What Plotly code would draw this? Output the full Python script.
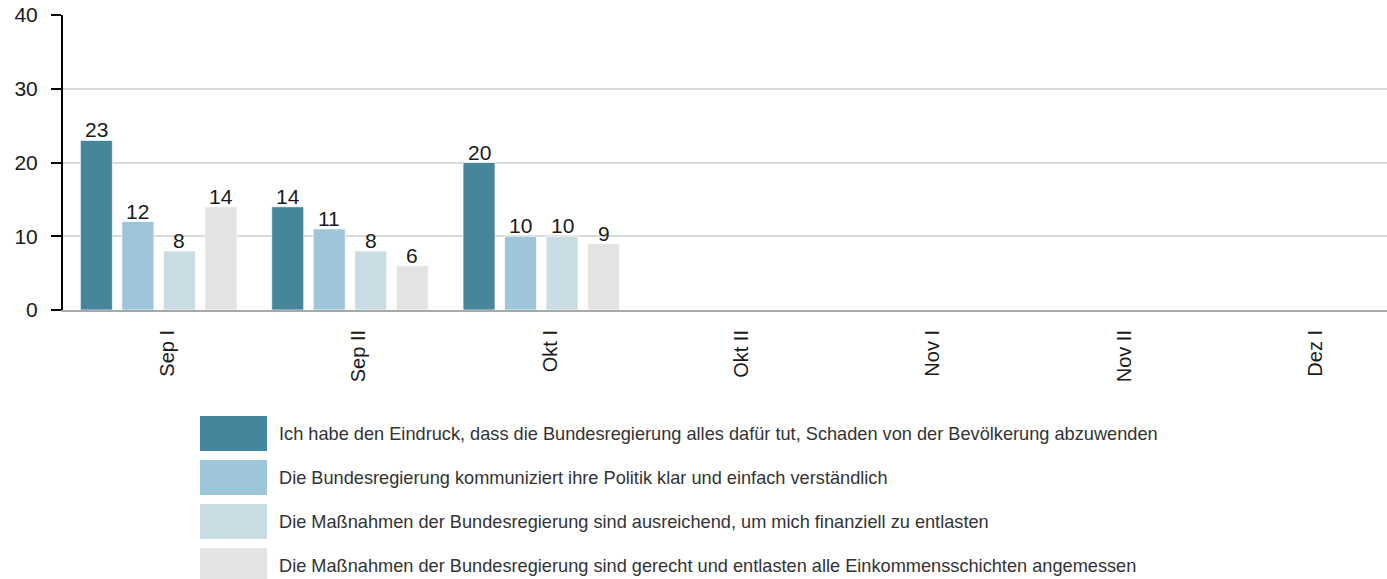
import plotly.graph_objects as go

# Survey periods and shares (percent) per statement
periods = ["Sep I", "Sep II", "Okt I", "Okt II", "Nov I", "Nov II", "Dez I"]
statements = [
    "Ich habe den Eindruck, dass die Bundesregierung alles dafür tut, Schaden von der Bevölkerung abzuwenden",
    "Die Bundesregierung kommuniziert ihre Politik klar und einfach verständlich",
    "Die Maßnahmen der Bundesregierung sind ausreichend, um mich finanziell zu entlasten",
    "Die Maßnahmen der Bundesregierung sind gerecht und entlasten alle Einkommensschichten angemessen",
]
schaden_abwenden = [23, 14, 20, None, None, None, None]
klar_kommuniziert = [12, 11, 10, None, None, None, None]
finanziell_entlastet = [8, 8, 10, None, None, None, None]
gerecht_entlastet = [14, 6, 9, None, None, None, None]
series = [schaden_abwenden, klar_kommuniziert, finanziell_entlastet, gerecht_entlastet]
colors = ["#45869c", "#9dc6db", "#c9dce4", "#e3e3e3"]
y_ticks = [0, 10, 20, 30, 40]

W, H = 1387, 579
L, R, T, B = 63, 0, 15, 269
FONT = "Liberation Sans, Arial, sans-serif"

fig = go.Figure()
for k, (name, vals, col) in enumerate(zip(statements, series, colors)):
    fig.add_trace(go.Bar(
        x=periods, y=vals, name=name, offsetgroup=str(k),
        marker=dict(color=col, line=dict(color="rgba(255,255,255,0.7)", width=1)),
        showlegend=False,
    ))

# Value labels sit just above each bar; bar offsets match the grouped layout
bargap, bargroupgap = 0.132, 0.229
slot = (1 - bargap) / len(series)
annotations = []
for k, vals in enumerate(series):
    dx = -(1 - bargap) / 2 + slot * (k + 0.5)
    for i, v in enumerate(vals):
        if v is None:
            continue
        annotations.append(dict(
            x=i + dx, y=v, xref="x", yref="y", text=str(v), showarrow=False,
            xanchor="center", yanchor="bottom", yshift=-3,
            font=dict(family=FONT, size=21, color="#1a1a1a"),
        ))

# Custom legend: large colour swatches with text to their right
pw, ph = W - L - R, H - T - B
def px_to_paper(px, py):
    return (px - L) / pw, (T + ph - py) / ph

shapes = []
row_top = [416, 460, 504, 548]
for name, col, top in zip(statements, colors, row_top):
    x0, y0 = px_to_paper(200, top)
    x1, y1 = px_to_paper(267, top + 35)
    shapes.append(dict(type="rect", xref="paper", yref="paper",
                       x0=x0, x1=x1, y0=y1, y1=y0,
                       fillcolor=col, line=dict(width=0)))
    tx, ty = px_to_paper(277, top + 17.5)
    annotations.append(dict(xref="paper", yref="paper", x=tx, y=ty,
                            xanchor="left", yanchor="middle", showarrow=False,
                            text=name, font=dict(family=FONT, size=18.2, color="#333333")))

fig.update_layout(
    width=W, height=H,
    margin=dict(l=L, r=R, t=T, b=B, pad=0),
    paper_bgcolor="white", plot_bgcolor="white",
    barmode="group", bargap=bargap, bargroupgap=bargroupgap,
    shapes=shapes, annotations=annotations,
    font=dict(family=FONT, color="#1a1a1a"),
)
fig.update_xaxes(
    type="category", range=[-0.5, 6.42],
    tickangle=-90, tickfont=dict(family=FONT, size=20, color="#1a1a1a"),
    ticklabelshift=9, ticklabelstandoff=10,
    showline=True, linecolor="#a8a8a8", linewidth=2,
    showgrid=False, ticks="",
)
fig.update_yaxes(
    range=[0, 40], tickvals=y_ticks,
    tickfont=dict(family=FONT, size=21, color="#1a1a1a"),
    ticklabelstandoff=9,
    showline=True, linecolor="black", linewidth=2,
    ticks="outside", ticklen=10, tickwidth=2, tickcolor="black",
    showgrid=True, gridcolor="#dadada", gridwidth=2,
    zeroline=False,
)

fig.write_html("out.html")
